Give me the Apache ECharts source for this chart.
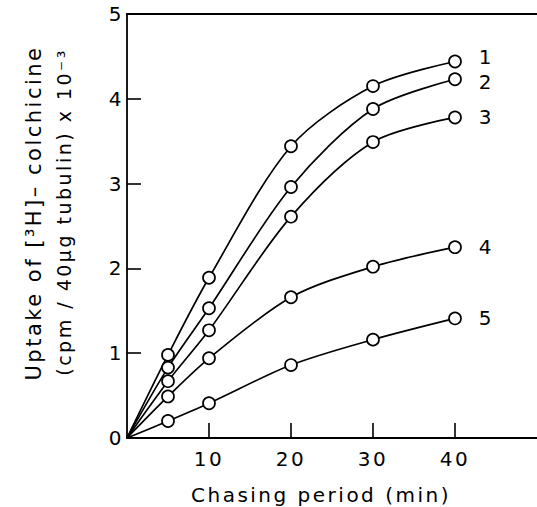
<!DOCTYPE html>
<html>
<head>
<meta charset="utf-8">
<script src="https://cdn.jsdelivr.net/npm/echarts@6/dist/echarts.min.js"></script>
<style>
  html, body { margin: 0; padding: 0; background: #fff; }
  #chart { width: 537px; height: 507px; }
  /* old typewriter-ish spacing of the scanned figure */
  #chart text { letter-spacing: 2.5px; }
</style>
</head>
<body>
<div id="chart"></div>
<script>
// chasing period (min)
const times = [0, 5, 10, 20, 30, 40]
// uptake x 10^-3, curves 1..5
const curve1 = [0, 0.98, 1.89, 3.44, 4.15, 4.44]
const curve2 = [0, 0.83, 1.53, 2.96, 3.88, 4.23]
const curve3 = [0, 0.67, 1.27, 2.61, 3.49, 3.78]
const curve4 = [0, 0.49, 0.94, 1.66, 2.02, 2.25]
const curve5 = [0, 0.20, 0.41, 0.86, 1.16, 1.41]
const curveNames = ['1', '2', '3', '4', '5']
const xTicks = [10, 20, 30, 40]

const font = 'DejaVu Sans'
const chart = echarts.init(document.getElementById('chart'), null, { renderer: 'svg' })

// curve 1 and 2 end labels sit close, nudge them apart a bit
const labelShift = { '1': [0, -4], '2': [0, 3] }

const makeSeries = (name, values) => ({
  name,
  type: 'line',
  smooth: 0.3,
  showAllSymbol: true,
  symbol: (val, params) => params.dataIndex === 0 ? 'none' : 'circle',
  symbolSize: 12,
  lineStyle: { color: '#000', width: 1.7 },
  itemStyle: { color: '#fff', borderColor: '#000', borderWidth: 1.7 },
  z: 3,
  data: values.map((v, i) => {
    const item = { value: [times[i], v] }
    if (i === values.length - 1) {
      item.label = {
        show: true, position: 'right', distance: 17, formatter: name,
        offset: labelShift[name] || [0, 0], lineHeight: 18,
        color: '#000', fontSize: 20, fontFamily: font
      }
    }
    return item
  })
})

const option = {
  animation: false,
  backgroundColor: '#fff',
  grid: { left: 127, right: -5, top: 14, bottom: 69 },
  xAxis: [
    {
      type: 'value',
      min: 0,
      max: 50,
      interval: 10,
      axisLine: { lineStyle: { color: '#000', width: 1.8 } },
      axisTick: { inside: true, length: 15, customValues: xTicks, lineStyle: { color: '#000', width: 1.6 } },
      axisLabel: { customValues: xTicks, color: '#000', fontSize: 20, fontFamily: font, margin: 11 },
      splitLine: { show: false }
    },
    {
      type: 'value',
      position: 'top',
      min: 0,
      max: 50,
      axisLine: { show: true, lineStyle: { color: '#000', width: 2.2 } },
      axisTick: { show: false },
      axisLabel: { show: false },
      splitLine: { show: false }
    }
  ],
  yAxis: {
    type: 'value',
    min: 0,
    max: 5,
    interval: 1,
    axisLine: { show: true, lineStyle: { color: '#000', width: 1.8 } },
    axisTick: { inside: true, length: 14, lineStyle: { color: '#000', width: 1.6 } },
    axisLabel: { color: '#000', fontSize: 20, fontFamily: font, margin: 3 },
    splitLine: { show: false }
  },
  graphic: [
    {
      type: 'text', x: 321, y: 495, z: 10,
      style: {
        text: 'Chasing period (min)', fontSize: 20, fontFamily: font, fill: '#000',
        align: 'center', verticalAlign: 'middle'
      }
    },
    {
      type: 'text', x: 34, y: 213, rotation: Math.PI / 2, z: 10,
      style: {
        text: 'Uptake of [³H]– colchicine', fontSize: 21, fontFamily: font, fill: '#000',
        align: 'center', verticalAlign: 'middle'
      }
    },
    {
      type: 'text', x: 64, y: 212, rotation: Math.PI / 2, z: 10,
      style: {
        text: '(cpm / 40μg tubulin) x 10⁻³', fontSize: 19, fontFamily: font, fill: '#000',
        align: 'center', verticalAlign: 'middle'
      }
    }
  ],
  series: [
    makeSeries(curveNames[0], curve1),
    makeSeries(curveNames[1], curve2),
    makeSeries(curveNames[2], curve3),
    makeSeries(curveNames[3], curve4),
    makeSeries(curveNames[4], curve5)
  ]
}

chart.setOption(option)
</script>
</body>
</html>
